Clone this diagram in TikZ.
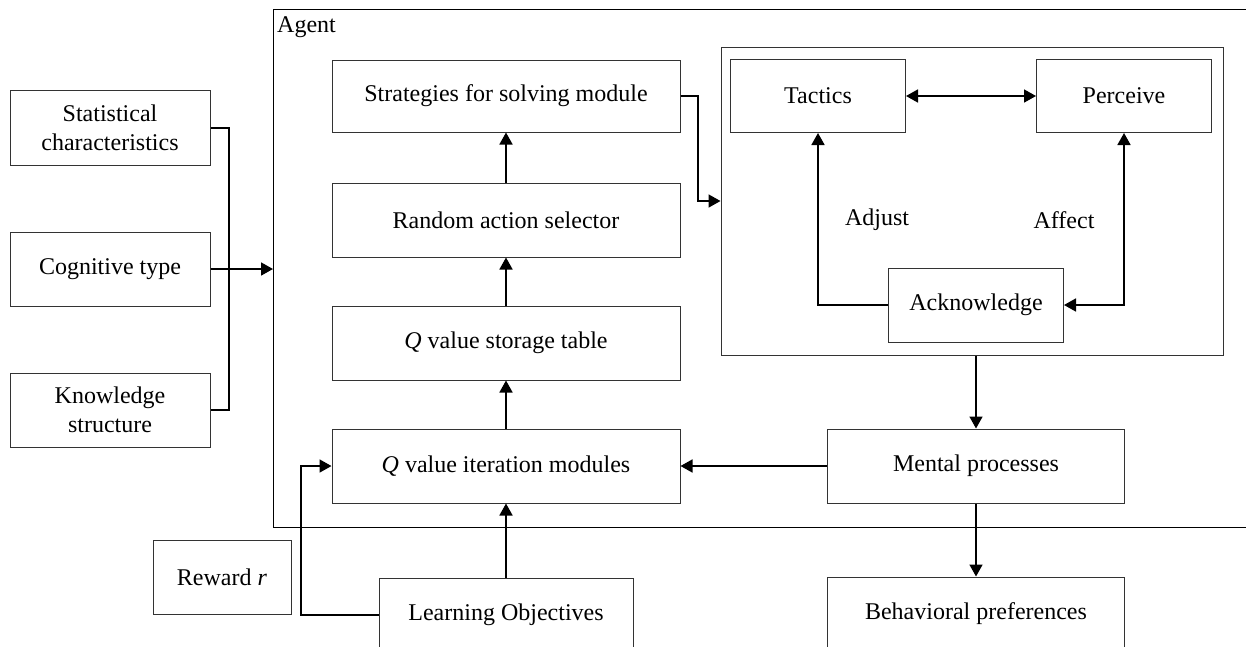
\documentclass[tikz,border=0pt]{standalone}
\usepackage{fontspec}
\setmainfont{Liberation Serif}
\usetikzlibrary{arrows.meta,calc}
\begin{document}
\begin{tikzpicture}[x=1pt,y=-1pt,
  box/.style={draw=black!80, line width=1pt, inner sep=0pt, align=center,
    font=\fontsize{24}{29}\selectfont},
  lbl/.style={inner sep=0pt, font=\fontsize{24}{29}\selectfont},
  conn/.style={line width=1.7pt, line join=miter},
  arr/.style={conn, -{Triangle[length=12pt,width=13pt]}},
  darr/.style={conn, {Triangle[length=12pt,width=13pt]}-{Triangle[length=12pt,width=13pt]}}]
\useasboundingbox (0,0) rectangle (1246,646);
% outer agent frame
\node[draw=black, line width=1pt, minimum width=1000pt, minimum height=518pt, anchor=north west, inner sep=0pt] (agent) at (273,9) {};
\node[lbl, anchor=west] (agentlbl) at (277,27) {Agent};
% inner cognitive frame
\node[draw=black!80, line width=1pt, minimum width=502pt, minimum height=308pt, inner sep=0pt] (inner) at (972,201) {};
% left inputs
\node[box, minimum width=200pt, minimum height=75pt] (stat) at (110,128) {Statistical\\characteristics};
\node[box, minimum width=200pt, minimum height=74pt] (cog) at (110,269) {Cognitive type};
\node[box, minimum width=200pt, minimum height=74pt] (know) at (110,410) {Knowledge\\structure};
% central column
\node[box, minimum width=348pt, minimum height=72pt] (strat) at (506,96) {Strategies for solving module};
\node[box, minimum width=348pt, minimum height=74pt] (rand) at (506,220) {Random action selector};
\node[box, minimum width=348pt, minimum height=74pt] (stor) at (506,343) {\textit{Q} value storage table};
\node[box, minimum width=348pt, minimum height=74pt] (iter) at (506,466) {\textit{Q} value iteration modules};
\node[box, minimum width=254pt, minimum height=74pt] (learn) at (506,615) {Learning Objectives};
\node[box, minimum width=138pt, minimum height=74pt] (reward) at (222,577) {Reward \textit{r}};
% inner boxes
\node[box, minimum width=175pt, minimum height=73pt] (tactics) at (818,96) {Tactics};
\node[box, minimum width=175pt, minimum height=73pt] (perceive) at (1124,96) {Perceive};
\node[box, minimum width=175pt, minimum height=74pt] (ack) at (976,305) {Acknowledge};
\node[lbl] (adjust) at (877,220) {Adjust};
\node[lbl] (affect) at (1064,220) {Affect};
% right column
\node[box, minimum width=297pt, minimum height=74pt] (mental) at (976,466) {Mental processes};
\node[box, minimum width=297pt, minimum height=74pt] (behav) at (976,614) {Behavioral preferences};
% helper coordinates
\coordinate (br) at (229,269);
\coordinate (sj) at (698,201);
\coordinate (lj) at (301,466);
% connectors
\draw[conn] (stat.east) -| (br) |- (know.east);
\draw[arr] (cog.east) -- (cog.east -| agent.west);
\draw[arr] (rand.north) -- (strat.south);
\draw[arr] (stor.north) -- (rand.south);
\draw[arr] (iter.north) -- (stor.south);
\draw[arr] (learn.north) -- (iter.south);
\draw[arr] (learn.west) -| (lj) -- (iter.west);
\draw[arr] (strat.east) -| (sj) -- (sj -| inner.west);
\draw[darr] (tactics.east) -- (perceive.west);
\draw[arr] (ack.west) -| (tactics.south);
\draw[darr] (ack.east) -| (perceive.south);
\draw[arr] (inner.south -| mental.north) -- (mental.north);
\draw[arr] (mental.west) -- (iter.east);
\draw[arr] (mental.south) -- (behav.north);
\end{tikzpicture}
\end{document}
